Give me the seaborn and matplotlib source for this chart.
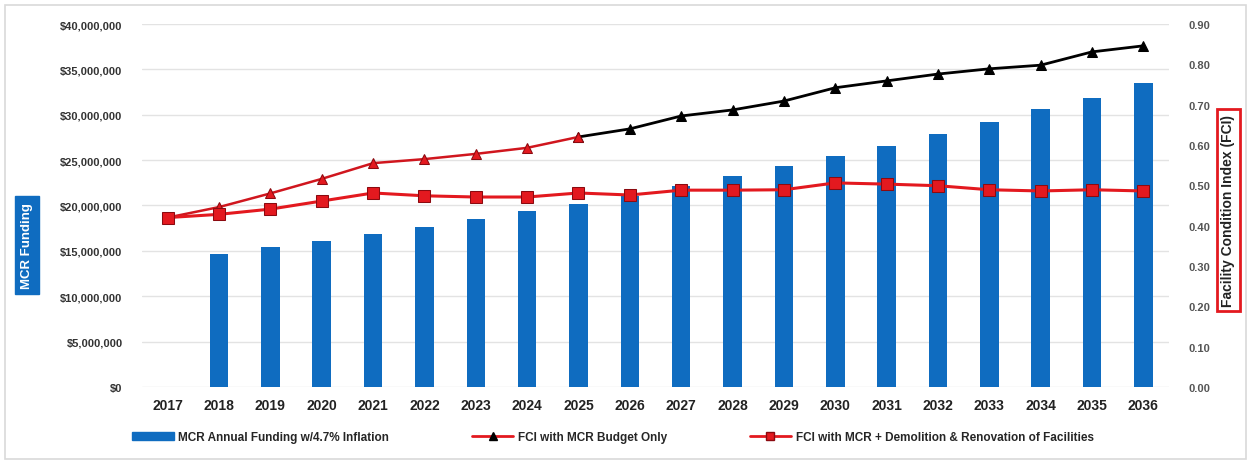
import numpy as np
import pandas as pd
import matplotlib
matplotlib.use("Agg")
import matplotlib.pyplot as plt
import matplotlib.ticker as mticker
from matplotlib.lines import Line2D
from matplotlib.patches import Patch, Rectangle
import seaborn as sns

sns.set_theme(style="white")
plt.rcParams['font.family'] = ['Liberation Sans', 'DejaVu Sans']

# Data
years = [str(y) for y in range(2017, 2037)]
funding = [0, 14.7e6, 15.4e6, 16.1e6, 16.9e6, 17.6e6, 18.5e6, 19.4e6, 20.2e6, 21.1e6,
           22.1e6, 23.2e6, 24.3e6, 25.4e6, 26.6e6, 27.9e6, 29.2e6, 30.6e6, 31.9e6, 33.5e6]
fci_budget = [0.42, 0.446, 0.48, 0.516, 0.555, 0.565, 0.578, 0.593, 0.62, 0.64,
              0.672, 0.687, 0.709, 0.742, 0.759, 0.776, 0.789, 0.798, 0.831, 0.846]
fci_demo = [0.42, 0.428, 0.441, 0.461, 0.481, 0.474, 0.471, 0.471, 0.481, 0.476,
            0.488, 0.488, 0.489, 0.506, 0.503, 0.499, 0.489, 0.486, 0.489, 0.486]
split_year = 8  # budget line drawn red through 2025, black afterwards

BLUE = "#0F6CC0"
RED = "#E3191F"
DARK_RED = "#8B0A10"

fig = plt.figure(figsize=(12.51, 4.64), dpi=100)
ax = fig.add_axes([0.1135, 0.164, 0.821, 0.782])

df_bar = pd.DataFrame({"year": years, "funding": funding})
sns.barplot(data=df_bar, x="year", y="funding", order=years, color=BLUE,
            width=0.36, saturation=1, ax=ax, linewidth=0)

ax.set_ylim(0, 40e6)
ax.set_xlim(-0.5, len(years) - 0.5)
ax.yaxis.set_major_locator(mticker.MultipleLocator(5e6))
ax.yaxis.set_major_formatter(mticker.FuncFormatter(lambda v, p: f"${v:,.0f}"))
ax.grid(axis="y", color="#e3e3e3", linewidth=1)
ax.set_axisbelow(True)
for s in ax.spines.values():
    s.set_visible(False)
ax.set_xlabel("")
ax.set_ylabel("")
ax.tick_params(axis="y", labelsize=8, colors="#333333", length=0, pad=14)
ax.tick_params(axis="x", labelsize=10, colors="#222222", length=0, pad=8)
for lab in ax.get_yticklabels() + ax.get_xticklabels():
    lab.set_fontweight("bold")

ax2 = ax.twinx()
pos = np.arange(len(years))
df_line = pd.DataFrame({"pos": pos, "budget": fci_budget, "demo": fci_demo})

sns.lineplot(data=df_line.iloc[split_year:], x="pos", y="budget", ax=ax2, color="black",
             linewidth=2.0, marker="^", markersize=7.5, markerfacecolor="black",
             markeredgecolor="black", sort=False)
sns.lineplot(data=df_line.iloc[:split_year + 1], x="pos", y="budget", ax=ax2,
             color="#D0161E", linewidth=1.8, marker="^", markersize=7.5,
             markerfacecolor=RED, markeredgecolor=DARK_RED, sort=False)
sns.lineplot(data=df_line, x="pos", y="demo", ax=ax2, color=RED, linewidth=2.2,
             marker="s", markersize=8.5, markerfacecolor=RED, markeredgecolor=DARK_RED,
             sort=False)

ax2.set_ylim(0, 0.9)
ax2.set_xlim(-0.5, len(years) - 0.5)
ax2.yaxis.set_major_locator(mticker.MultipleLocator(0.1))
ax2.yaxis.set_major_formatter(mticker.FormatStrFormatter("%.2f"))
ax2.grid(False)
for s in ax2.spines.values():
    s.set_visible(False)
ax2.set_xlabel("")
ax2.set_ylabel("")
ax2.tick_params(axis="y", labelsize=8, colors="#555555", length=0, pad=14)
for lab in ax2.get_yticklabels():
    lab.set_fontweight("bold")

# Axis titles in boxes
fig.text(0.0215, 0.47, "MCR Funding", rotation=90, ha="center", va="center",
         fontsize=9.5, fontweight="bold", color="white",
         bbox=dict(boxstyle="square,pad=0.45", facecolor=BLUE, edgecolor=BLUE))
fig.text(0.982, 0.545, "Facility Condition Index (FCI)", rotation=90, ha="center",
         va="center", fontsize=10, fontweight="bold", color="#222222",
         bbox=dict(boxstyle="square,pad=0.35", facecolor="white", edgecolor=RED,
                   linewidth=2))

# Legend
handles = [
    Patch(facecolor=BLUE, edgecolor=BLUE),
    Line2D([], [], color=RED, linewidth=2, marker="^", markersize=6,
           markerfacecolor="black", markeredgecolor="black"),
    Line2D([], [], color=RED, linewidth=2, marker="s", markersize=6,
           markerfacecolor=RED, markeredgecolor=DARK_RED),
]
labels = ["MCR Annual Funding w/4.7% Inflation", "FCI with MCR Budget Only",
          "FCI with MCR + Demolition & Renovation of Facilities"]
fig.legend(handles, labels, loc="center", bbox_to_anchor=(0.49, 0.056), ncol=3,
           frameon=False, columnspacing=7, handlelength=3.5,
           handletextpad=0.4, prop={"weight": "bold", "size": 8.5})

# Outer border
fig.patches.append(Rectangle((0.004, 0.008), 0.992, 0.978, transform=fig.transFigure,
                             fill=False, edgecolor="#d9d9d9", linewidth=1.2))

fig.savefig("out.png", dpi=100)
